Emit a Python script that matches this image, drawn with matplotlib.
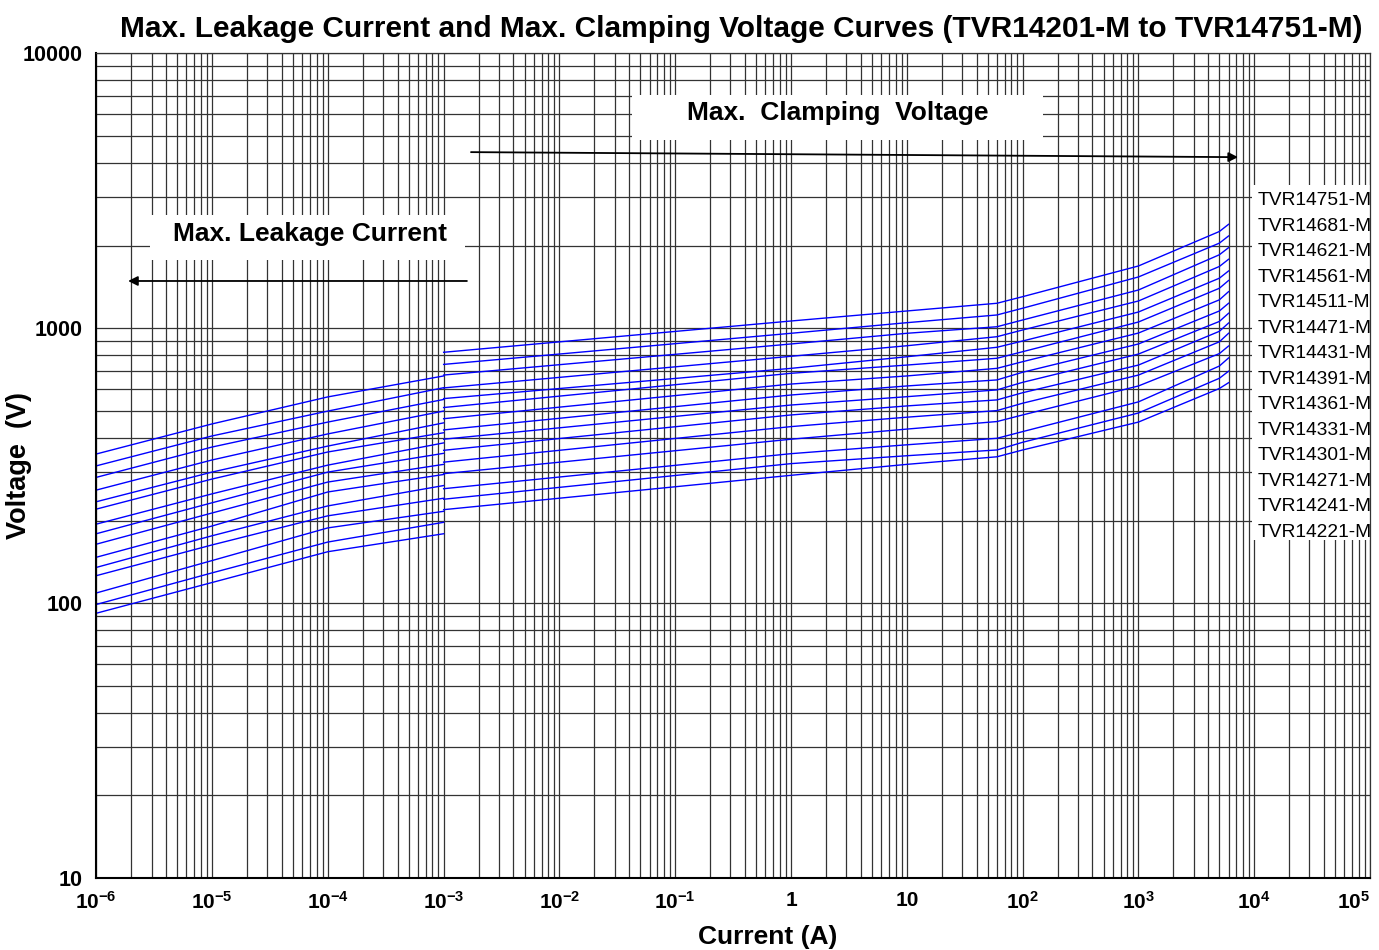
import matplotlib
matplotlib.use("Agg")
import matplotlib.pyplot as plt
from matplotlib.patches import Rectangle
from matplotlib.ticker import LogLocator, NullFormatter

plt.rcParams['font.family'] = ['Liberation Sans', 'DejaVu Sans']
plt.rcParams['mathtext.fontset'] = 'custom'
plt.rcParams['mathtext.rm'] = 'Liberation Sans'
plt.rcParams['mathtext.bf'] = 'Liberation Sans:bold'

# models, top curve first
models = ['TVR14751-M', 'TVR14681-M', 'TVR14621-M', 'TVR14561-M', 'TVR14511-M',
          'TVR14471-M', 'TVR14431-M', 'TVR14391-M', 'TVR14361-M', 'TVR14331-M',
          'TVR14301-M', 'TVR14271-M', 'TVR14241-M', 'TVR14221-M', 'TVR14201-M']

# max. leakage current part
leak_current = [1e-6, 1e-5, 1e-4, 1e-3]
leak_v = [
    [349, 449, 563, 671],
    [316, 406, 500, 608],
    [287, 370, 456, 551],
    [258, 332, 413, 500],
    [234, 300, 373, 453],
    [220, 283, 355, 417],
    [194, 250, 318, 383],
    [179, 232, 300, 351],
    [164, 213, 276, 320],
    [147, 191, 254, 294],
    [135, 176, 226, 268],
    [126, 163, 208, 241],
    [109, 143, 188, 216],
    [99, 129, 167, 197],
    [92, 119, 154, 179],
]

# max. clamping voltage part
clamp_current = [1e-3, 1, 10, 60, 100, 1000, 5000, 6000]
clamp_v = [
    [818, 1063, 1156, 1233, 1303, 1685, 2249, 2388],
    [739, 959, 1048, 1118, 1183, 1537, 2040, 2166],
    [676, 877, 959, 1013, 1072, 1378, 1851, 1964],
    [607, 791, 864, 932, 986, 1257, 1678, 1782],
    [555, 715, 788, 853, 899, 1146, 1521, 1616],
    [515, 686, 735, 778, 822, 1054, 1398, 1492],
    [469, 627, 671, 715, 756, 961, 1269, 1359],
    [427, 572, 617, 649, 692, 877, 1156, 1233],
    [395, 526, 564, 597, 636, 806, 1059, 1134],
    [360, 484, 522, 549, 583, 735, 975, 1045],
    [326, 439, 475, 502, 534, 676, 893, 959],
    [296, 395, 430, 458, 484, 617, 809, 862],
    [261, 350, 377, 398, 421, 540, 729, 780],
    [239, 322, 344, 361, 385, 492, 658, 698],
    [219, 292, 320, 341, 361, 456, 604, 634],
]

x_ticks = [1e-6, 1e-5, 1e-4, 1e-3, 1e-2, 1e-1, 1, 10, 1e2, 1e3, 1e4, 1e5]
x_ticklabels = [r'$\mathbf{10^{-6}}$', r'$\mathbf{10^{-5}}$', r'$\mathbf{10^{-4}}$',
                r'$\mathbf{10^{-3}}$', r'$\mathbf{10^{-2}}$', r'$\mathbf{10^{-1}}$',
                '1', '10', r'$\mathbf{10^{2}}$', r'$\mathbf{10^{3}}$',
                r'$\mathbf{10^{4}}$', r'$\mathbf{10^{5}}$']
y_ticks = [10, 100, 1000, 10000]
y_ticklabels = ['10', '100', '1000', '10000']

fig = plt.figure(figsize=(13.79, 9.5), dpi=100)
ax = fig.add_axes([0.0698, 0.0755, 0.9237, 0.8684])
ax.set_xscale('log')
ax.set_yscale('log')
ax.set_xlim(1e-6, 1e5)
ax.set_ylim(10, 10000)

for i in range(len(models)):
    ax.plot(leak_current, leak_v[i], color='#0000ff', lw=1.0)
    ax.plot(clamp_current, clamp_v[i], color='#0000ff', lw=1.0)

ax.set_xticks(x_ticks)
ax.set_xticklabels(x_ticklabels)
ax.set_yticks(y_ticks)
ax.set_yticklabels(y_ticklabels)
ax.xaxis.set_minor_locator(LogLocator(base=10, subs=range(2, 10), numticks=50))
ax.yaxis.set_minor_locator(LogLocator(base=10, subs=range(2, 10), numticks=50))
ax.xaxis.set_minor_formatter(NullFormatter())
ax.yaxis.set_minor_formatter(NullFormatter())
ax.tick_params(which='both', length=0)
ax.tick_params(axis='x', pad=9, labelsize=15)
ax.tick_params(axis='y', pad=10, labelsize=15.5)
for lab in ax.get_xticklabels() + ax.get_yticklabels():
    lab.set_fontweight('bold')
ax.get_xticklabels()[-1].set_horizontalalignment('right')

ax.set_axisbelow(True)
ax.grid(True, which='both', color='#333333', lw=0.9)
for s in ax.spines.values():
    s.set_color('#333333')
    s.set_linewidth(0.9)
ax.spines['left'].set_color('black')
ax.spines['left'].set_linewidth(1.5)
ax.spines['bottom'].set_color('black')
ax.spines['bottom'].set_linewidth(1.5)

# white boxes over the grid
ax.add_patch(Rectangle((0.4206, 0.8949), 0.3227, 0.0545, transform=ax.transAxes,
                       facecolor='white', edgecolor='none', zorder=1))
ax.add_patch(Rectangle((0.0422, 0.7495), 0.2473, 0.0545, transform=ax.transAxes,
                       facecolor='white', edgecolor='none', zorder=1))
ax.add_patch(Rectangle((0.9074, 0.41), 0.0926, 0.4304, transform=ax.transAxes,
                       facecolor='white', edgecolor='none', zorder=1))

ax.text(0.5823, 0.9276, 'Max.  Clamping  Voltage', transform=ax.transAxes,
        ha='center', va='center', fontsize=19, fontweight='bold', zorder=3)
ax.text(0.1678, 0.7810, 'Max. Leakage Current', transform=ax.transAxes,
        ha='center', va='center', fontsize=19, fontweight='bold', zorder=3)

ax.annotate('', xy=(0.8964, 0.8741), xytext=(0.2942, 0.8802), xycoords='axes fraction',
            arrowprops=dict(arrowstyle='-|>', color='black', lw=1.3, mutation_scale=14,
                            shrinkA=0, shrinkB=0))
ax.annotate('', xy=(0.0250, 0.7240), xytext=(0.2910, 0.7240), xycoords='axes fraction',
            arrowprops=dict(arrowstyle='-|>', color='black', lw=1.3, mutation_scale=14,
                            shrinkA=0, shrinkB=0))

# model labels at the right (no label for TVR14201-M)
for i, name in enumerate(models[:-1]):
    ypix = 201 + 25.5 * i
    ax.text(0.9118, (878.3 - ypix) / 825, name, transform=ax.transAxes,
            ha='left', va='center', fontsize=13.8, zorder=3)

fig.text(0.5373, 0.9695, 'Max. Leakage Current and Max. Clamping Voltage Curves (TVR14201-M to TVR14751-M)',
         ha='center', va='center', fontsize=21.5, fontweight='bold')
fig.text(0.557, 0.0137, 'Current (A)', ha='center', va='center', fontsize=19, fontweight='bold')
fig.text(0.014, 0.5105, 'Voltage  (V)', ha='center', va='center', rotation=90,
         fontsize=19.5, fontweight='bold')

fig.savefig('out.png', dpi=100)
